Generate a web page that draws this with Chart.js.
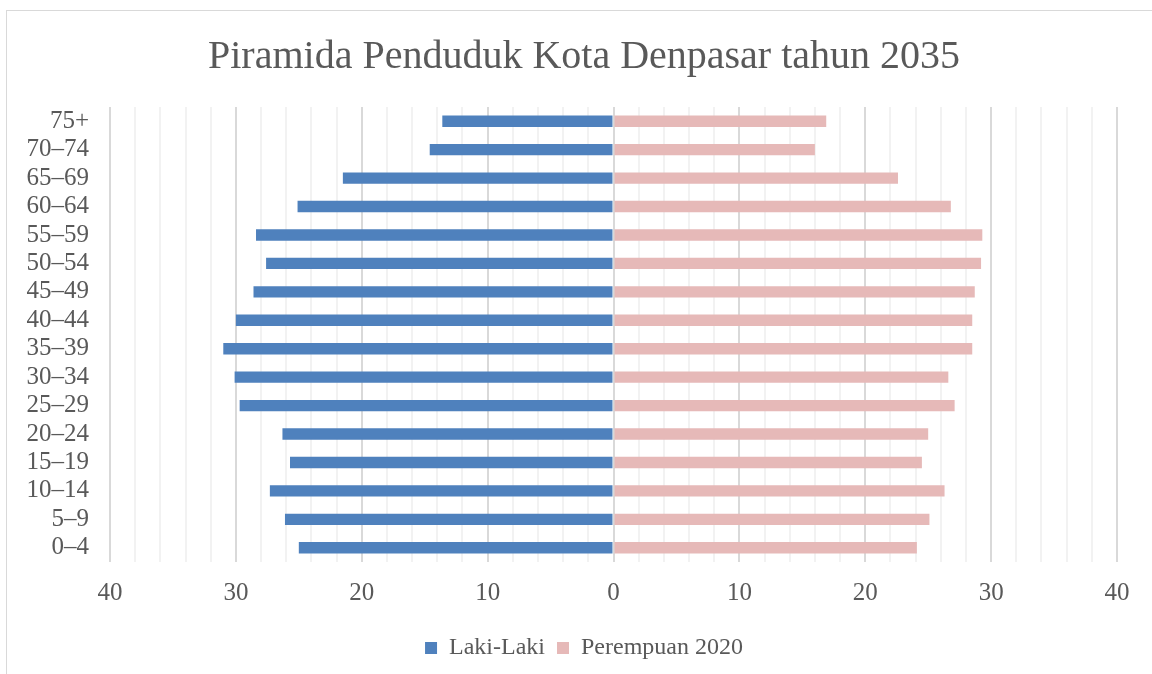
<!DOCTYPE html>
<html>
<head>
<meta charset="utf-8">
<script src="https://cdn.jsdelivr.net/npm/chart.js@4.4.1/dist/chart.umd.min.js"></script>
<style>
    html, body { margin: 0; padding: 0; background: #fff; overflow: hidden; }
    #frame { position: absolute; left: 6px; top: 10px; width: 1160px; height: 700px; border: 1px solid #d9d9d9; }
    #wrap { position: absolute; left: 0; top: 0; width: 1152px; height: 690px; }
</style>
</head>
<body>
<div id="frame"></div>
<div id="wrap"><canvas id="pyramid-chart"></canvas></div>
<script>
const ageGroups = ['75+', '70–74', '65–69', '60–64', '55–59', '50–54', '45–49', '40–44',
    '35–39', '30–34', '25–29', '20–24', '15–19', '10–14', '5–9', '0–4'];
const maleValues = [13.6, 14.6, 21.5, 25.1, 28.4, 27.6, 28.6, 30.0,
    31.0, 30.1, 29.7, 26.3, 25.7, 27.3, 26.1, 25.0];
const femaleValues = [16.9, 16.0, 22.6, 26.8, 29.3, 29.2, 28.7, 28.5,
    28.5, 26.6, 27.1, 25.0, 24.5, 26.3, 25.1, 24.1];
const axisMin = -40;
const axisMax = 40;

Chart.defaults.font.family = '"Liberation Serif", "DejaVu Serif", serif';
Chart.defaults.color = '#595959';

new Chart(document.getElementById('pyramid-chart'), {
    type: 'bar',
    data: {
        labels: ageGroups,
        datasets: [
            {
                label: 'Laki-Laki',
                data: maleValues.map(v => -v),
                backgroundColor: '#4f81bd',
                barPercentage: 0.4,
                categoryPercentage: 1
            },
            {
                label: 'Perempuan 2020',
                data: femaleValues,
                backgroundColor: '#e6b9b8',
                barPercentage: 0.4,
                categoryPercentage: 1
            }
        ]
    },
    options: {
        indexAxis: 'y',
        responsive: true,
        maintainAspectRatio: false,
        animation: false,
        layout: { padding: { left: 20, right: 4, top: 12, bottom: 20 } },
        plugins: {
            title: {
                display: true,
                text: 'Piramida Penduduk Kota Denpasar tahun 2035',
                font: { size: 40, weight: 'normal' },
                padding: { top: 21.5, bottom: 25.5 }
            },
            legend: {
                position: 'bottom',
                labels: { boxWidth: 12, boxHeight: 12, padding: 12, font: { size: 24 } }
            },
            tooltip: { enabled: false }
        },
        scales: {
            x: {
                stacked: true,
                min: axisMin,
                max: axisMax,
                border: { display: false },
                grid: {
                    drawTicks: false,
                    lineWidth: 2,
                    color: ctx => ctx.tick && ctx.tick.value % 10 === 0 ? '#d9d9d9' : '#f2f2f2'
                },
                ticks: {
                    stepSize: 2,
                    autoSkip: false,
                    maxRotation: 0,
                    padding: 16,
                    font: { size: 25 },
                    callback: v => v % 10 === 0 ? Math.abs(v) : ''
                },
                afterFit: scale => { scale.paddingRight = 35; }
            },
            y: {
                stacked: true,
                border: { display: false },
                grid: { display: false },
                ticks: { autoSkip: false, padding: 13, font: { size: 25 } },
                afterFit: scale => { scale.width = 90; }
            }
        }
    }
});
</script>
</body>
</html>
